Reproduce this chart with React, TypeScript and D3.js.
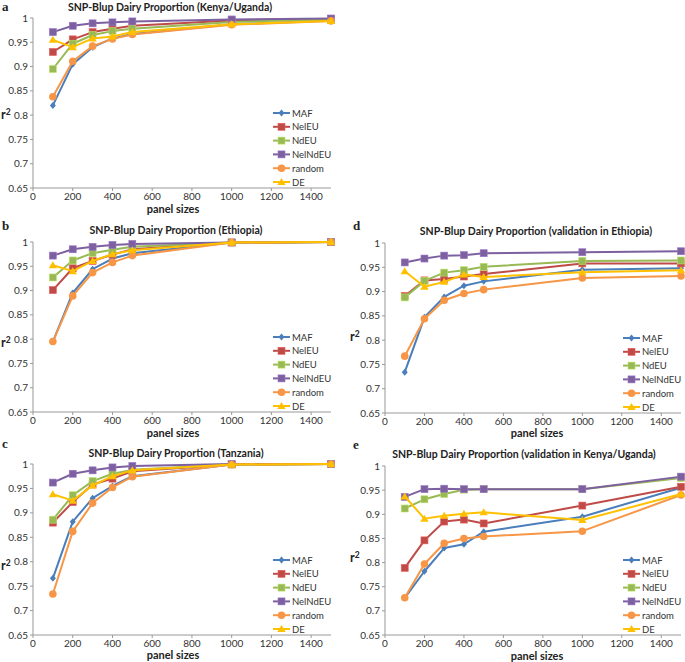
import React from "react";
import * as d3 from "d3";

const panelSizes = [100, 200, 300, 400, 500, 1000, 1500];
const seriesNames = ["MAF", "NelEU", "NdEU", "NelNdEU", "random", "DE"];
const seriesColors = ["#4A7EBB", "#BE4B48", "#98B954", "#7D60A0", "#F79646", "#FFC000"];
const seriesMarkers = ["diamond", "square", "square", "square", "circle", "triangle"];
const xTicks = [0, 200, 400, 600, 800, 1000, 1200, 1400];
const yTicks = [0.65, 0.7, 0.75, 0.8, 0.85, 0.9, 0.95, 1];

// rows follow seriesNames order
const kenyaUganda = [
  [0.82, 0.905, 0.94, 0.958, 0.967, 0.987, 0.995],
  [0.93, 0.956, 0.971, 0.978, 0.984, 0.995, 0.998],
  [0.895, 0.947, 0.965, 0.973, 0.978, 0.992, 0.997],
  [0.971, 0.984, 0.989, 0.991, 0.993, 0.997, 0.999],
  [0.838, 0.911, 0.942, 0.957, 0.966, 0.986, 0.994],
  [0.955, 0.94, 0.958, 0.962, 0.971, 0.987, 0.994],
];
const ethiopia = [
  [0.795, 0.895, 0.944, 0.966, 0.977, 0.999, 1.0],
  [0.901, 0.946, 0.961, 0.974, 0.985, 0.999, 1.0],
  [0.927, 0.962, 0.977, 0.984, 0.99, 0.999, 1.0],
  [0.972, 0.985, 0.99, 0.994, 0.996, 0.999, 1.0],
  [0.795, 0.889, 0.937, 0.958, 0.972, 0.999, 1.0],
  [0.952, 0.94, 0.961, 0.975, 0.983, 0.999, 1.0],
];
const tanzania = [
  [0.766, 0.882, 0.93, 0.955, 0.975, 0.999, 1.0],
  [0.88, 0.922, 0.958, 0.97, 0.985, 0.999, 1.0],
  [0.886, 0.936, 0.965, 0.98, 0.988, 0.999, 1.0],
  [0.962, 0.98, 0.987, 0.993, 0.996, 1.0, 1.0],
  [0.734, 0.862, 0.92, 0.952, 0.974, 0.999, 1.0],
  [0.938, 0.925, 0.956, 0.975, 0.987, 0.999, 1.0],
];
const validationEthiopia = [
  [0.734, 0.847, 0.889, 0.912, 0.921, 0.945, 0.948],
  [0.891, 0.923, 0.926, 0.931, 0.936, 0.958, 0.958],
  [0.888, 0.922, 0.939, 0.944, 0.951, 0.963, 0.964],
  [0.96, 0.968, 0.974, 0.975, 0.979, 0.981, 0.983],
  [0.767, 0.844, 0.882, 0.896, 0.904, 0.928, 0.932],
  [0.942, 0.91, 0.92, 0.935, 0.93, 0.94, 0.944],
];
const validationKenyaUganda = [
  [0.727, 0.782, 0.83, 0.838, 0.864, 0.895, 0.955],
  [0.789, 0.846, 0.885, 0.889, 0.881, 0.918, 0.957],
  [0.912, 0.931, 0.942, 0.951, 0.952, 0.952, 0.975],
  [0.936, 0.952, 0.953, 0.952, 0.952, 0.952, 0.978],
  [0.727, 0.797, 0.84, 0.85, 0.854, 0.865, 0.94],
  [0.937, 0.891, 0.897, 0.901, 0.904, 0.888, 0.942],
];

const titles = [
  "SNP-Blup Dairy Proportion (Kenya/Uganda)",
  "SNP-Blup Dairy Proportion (Ethiopia)",
  "SNP-Blup Dairy Proportion (Tanzania)",
  "SNP-Blup Dairy Proportion (validation in Ethiopia)",
  "SNP-Blup Dairy Proportion (validation in Kenya/Uganda)",
];
const letters = ["a", "b", "c", "d", "e"];
const datasets = [kenyaUganda, ethiopia, tanzania, validationEthiopia, validationKenyaUganda];

// layout
const layouts = [
  { x0: 33, x1: 331, yT: 18, yB: 188, tx: 170, ty: 11, lx: 2, ly: 11, ax: 173, ay: 213, rx: 1, ry: 119 },
  { x0: 33, x1: 331, yT: 242, yB: 412, tx: 176, ty: 234, lx: 2, ly: 230, ax: 173, ay: 437, rx: 1, ry: 347 },
  { x0: 33, x1: 331, yT: 464, yB: 635, tx: 176, ty: 457, lx: 2, ly: 448, ax: 173, ay: 659, rx: 1, ry: 570 },
  { x0: 385, x1: 681, yT: 243, yB: 413, tx: 536, ty: 235, lx: 353, ly: 230, ax: 537, ay: 437, rx: 350, ry: 341 },
  { x0: 385, x1: 681, yT: 466, yB: 635, tx: 524, ty: 458, lx: 353, ly: 449, ax: 537, ay: 659.5, rx: 350, ry: 562 },
];

const FONT = "Lato, 'Open Sans', sans-serif";

function Marker({ type, x, y, color }: { type: string; x: number; y: number; color: string }) {
  if (type === "square") {
    return <rect x={x - 3.5} y={y - 3.5} width={7} height={7} fill={color} stroke={d3.color(color)!.brighter(0.6).toString()} strokeWidth={0.6} />;
  }
  if (type === "circle") {
    return <circle cx={x} cy={y} r={3.8} fill={color} />;
  }
  if (type === "diamond") {
    return <path d={`M${x},${y - 3.5}L${x + 3},${y}L${x},${y + 3.5}L${x - 3},${y}Z`} fill={color} />;
  }
  return <path d={`M${x},${y - 4}L${x + 4.2},${y + 3}L${x - 4.2},${y + 3}Z`} fill={color} />;
}

function Panel({ idx }: { idx: number }) {
  const L = layouts[idx];
  const data = datasets[idx];
  const x = d3.scaleLinear().domain([0, 1500]).range([L.x0, L.x1]);
  const y = d3.scaleLinear().domain([0.65, 1]).range([L.yB, L.yT]);
  const line = d3.line<number>().x((_, i) => x(panelSizes[i])).y((v) => y(v));
  const legX = L.x1 - 58;
  const legY0 = L.yB - 75;
  return (
    <g>
      <text x={L.lx} y={L.ly} fontFamily="'Liberation Serif', serif" fontWeight="bold" fontSize={13} fill="#222">
        {letters[idx]}
      </text>
      <text x={L.tx} y={L.ty} textAnchor="middle" fontFamily={FONT} fontWeight="bold" fontSize={10.5} fill="#222">
        {titles[idx]}
      </text>
      {/* axes */}
      <line x1={L.x0} x2={L.x0} y1={L.yT} y2={L.yB} stroke="#999" strokeWidth={1} />
      <line x1={L.x0} x2={L.x1} y1={L.yB} y2={L.yB} stroke="#999" strokeWidth={1} />
      {yTicks.map((t) => (
        <g key={t}>
          <line x1={L.x0 - 3} x2={L.x0} y1={y(t)} y2={y(t)} stroke="#999" />
          <text x={L.x0 - 5} y={y(t) + 3.5} textAnchor="end" fontFamily={FONT} fontSize={10} fill="#333">
            {d3.format("~g")(t)}
          </text>
        </g>
      ))}
      {xTicks.map((t) => (
        <g key={t}>
          <line x1={x(t)} x2={x(t)} y1={L.yB} y2={L.yB + 3} stroke="#999" />
          <text x={x(t)} y={L.yB + 12} textAnchor="middle" fontFamily={FONT} fontSize={10} fill="#333">
            {t}
          </text>
        </g>
      ))}
      <text x={L.ax} y={L.ay} textAnchor="middle" fontFamily={FONT} fontWeight="bold" fontSize={11} fill="#222">
        panel sizes
      </text>
      <text x={L.rx} y={L.ry} fontFamily={FONT} fontWeight="bold" fontSize={12.5} fill="#222">
        r<tspan dy={-4} fontSize={8.5}>2</tspan>
      </text>
      {/* series */}
      {data.map((vals, s) => (
        <g key={s}>
          <path d={line(vals) || ""} fill="none" stroke={seriesColors[s]} strokeWidth={2} strokeLinejoin="round" />
          {vals.map((v, i) => (
            <Marker key={i} type={seriesMarkers[s]} x={x(panelSizes[i])} y={y(v)} color={seriesColors[s]} />
          ))}
        </g>
      ))}
      {/* legend */}
      {seriesNames.map((n, s) => {
        const ly = legY0 + s * 13.8;
        return (
          <g key={n}>
            <line x1={legX} x2={legX + 17} y1={ly} y2={ly} stroke={seriesColors[s]} strokeWidth={2} />
            <Marker type={seriesMarkers[s]} x={legX + 8.5} y={ly} color={seriesColors[s]} />
            <text x={legX + 19} y={ly + 3.5} fontFamily={FONT} fontSize={9.5} fill="#333">
              {n}
            </text>
          </g>
        );
      })}
    </g>
  );
}

export default function App() {
  return (
    <svg width={685} height={662} style={{ position: "absolute", left: 0, top: 0, background: "#fff" }}>
      <rect width={685} height={662} fill="#fff" />
      {layouts.map((_, i) => (
        <Panel key={i} idx={i} />
      ))}
    </svg>
  );
}
